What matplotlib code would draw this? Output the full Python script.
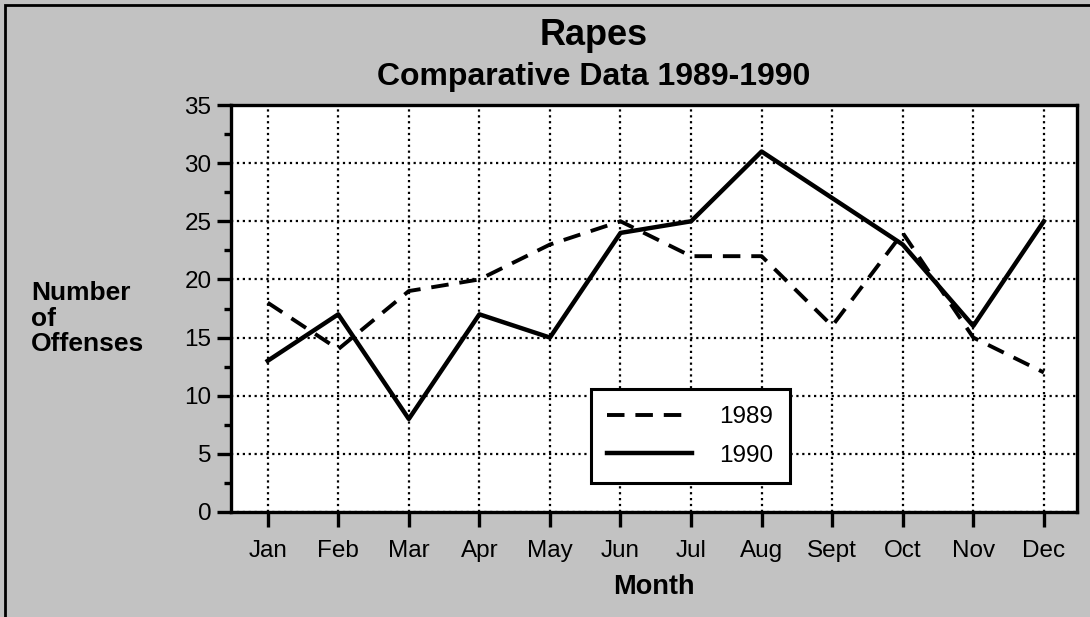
import matplotlib
matplotlib.use("Agg")
import matplotlib.pyplot as plt
from matplotlib.patches import Rectangle
from matplotlib.ticker import MultipleLocator

plt.rcParams['font.family'] = ['Liberation Sans', 'DejaVu Sans']

# Datos
meses = ["Jan", "Feb", "Mar", "Apr", "May", "Jun", "Jul", "Aug", "Sept", "Oct", "Nov", "Dec"]
delitos_1989 = [18, 14, 19, 20, 23, 25, 22, 22, 16, 24, 15, 12]
delitos_1990 = [13, 17, 8, 17, 15, 24, 25, 31, 27, 23, 16, 25]

fig = plt.figure(figsize=(10.9, 6.17), dpi=100)
fig.patch.set_facecolor('#c2c2c2')

# Marco exterior (solo se ven los bordes superior e izquierdo)
fig.patches.append(Rectangle((5 / 1090, -0.5), 2.0, 1 - 5 / 617 + 0.5,
                             transform=fig.transFigure, fill=False,
                             edgecolor='black', linewidth=2))

ax = fig.add_axes([231 / 1090, 1 - 512 / 617, (1077 - 231) / 1090, (512 - 105) / 617])
ax.set_facecolor('white')

x = list(range(len(meses)))
ax.plot(x, delitos_1989, color='black', linewidth=2.8, linestyle=(0, (4.5, 2.8)), label='1989')
ax.plot(x, delitos_1990, color='black', linewidth=3.2, linestyle='-', label='1990')

ax.set_xlim(-0.52, 11.47)
ax.set_ylim(0, 35)
ax.set_xticks(x)
ax.set_xticklabels(meses)
ax.yaxis.set_major_locator(MultipleLocator(5))
ax.yaxis.set_minor_locator(MultipleLocator(2.5))

ax.grid(True, which='major', color='black', linestyle=':', linewidth=1.6)
for s in ax.spines.values():
    s.set_linewidth(2.4)

ax.tick_params(axis='y', which='major', direction='out', length=10, width=2.4, labelsize=17.5, pad=4)
ax.tick_params(axis='y', which='minor', direction='out', length=5, width=2.4)
ax.tick_params(axis='x', which='major', direction='out', length=11, width=2.4, labelsize=17.5, pad=9)

ax.set_xlabel("Month", fontsize=19.5, fontweight='bold', labelpad=9)

fig.text(31 / 1090, 1 - 281 / 617, "Number\nof\nOffenses", fontsize=19, fontweight='bold',
         ha='left', va='top', linespacing=1.08)

fig.text(594 / 1090, 1 - 45 / 617, "Rapes", fontsize=26, fontweight='bold', ha='center', va='baseline')
fig.text(594 / 1090, 1 - 85 / 617, "Comparative Data 1989-1990", fontsize=23, fontweight='bold',
         ha='center', va='baseline')

leg = ax.legend(loc='lower left', bbox_to_anchor=(0.425, 0.071), fontsize=17.5,
                handlelength=3.5, handletextpad=1.1, labelspacing=0.68, borderpad=0.68,
                frameon=True, fancybox=False, framealpha=1, edgecolor='black',
                borderaxespad=0)
leg.get_frame().set_linewidth(2.2)

fig.savefig("out.png", dpi=100, facecolor=fig.get_facecolor())
